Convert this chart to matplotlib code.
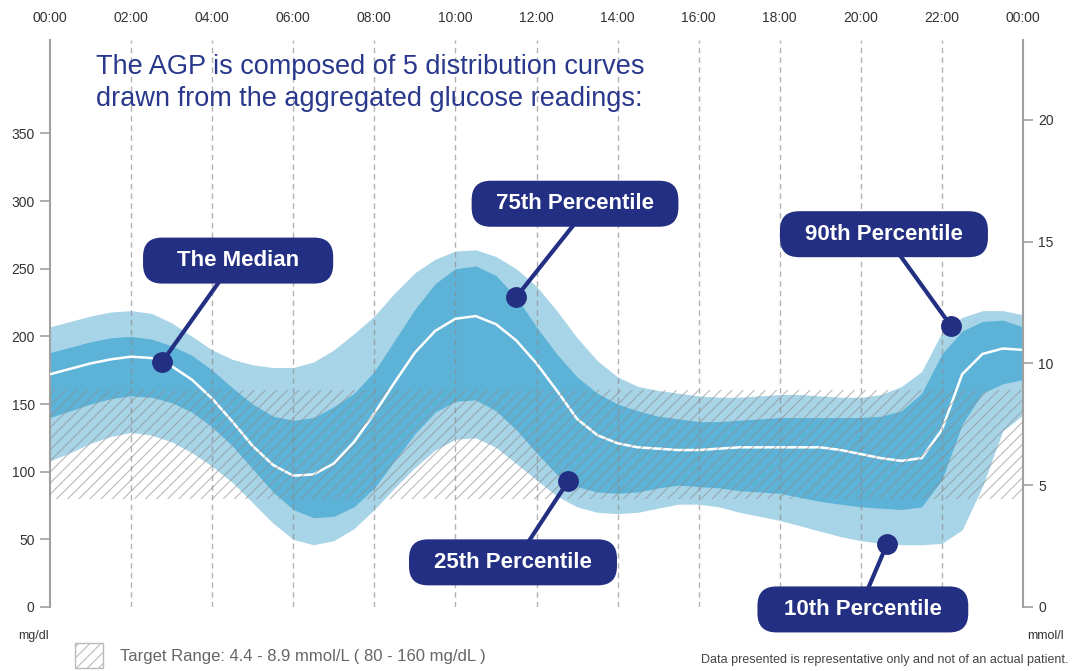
import matplotlib
matplotlib.use("Agg")
import matplotlib.pyplot as plt
from matplotlib.patches import FancyBboxPatch, Rectangle
import numpy as np

plt.rcParams['font.family'] = ['Liberation Sans', 'DejaVu Sans']
plt.rcParams['hatch.linewidth'] = 0.8
plt.rcParams['hatch.color'] = '#8c8c8c'

# glucose percentiles (mg/dl), read every half hour from 00:00 to 24:00
hours = np.arange(0, 24.5, 0.5)
p90 = [207, 211, 215, 218, 219, 217, 210, 200, 190, 183, 179, 177, 177, 181, 190, 202,
       215, 232, 247, 257, 263, 264, 259, 250, 237, 219, 199, 182, 170, 163, 160, 158,
       156, 155, 155, 156, 157, 157, 156, 155, 155, 157, 163, 174, 203, 214, 219, 219, 216]
p75 = [188, 192, 196, 199, 200, 198, 193, 186, 175, 162, 150, 141, 138, 140, 148, 158,
       174, 197, 220, 239, 250, 252, 245, 229, 207, 187, 170, 158, 150, 145, 141, 139,
       137, 137, 138, 139, 140, 140, 140, 140, 140, 141, 145, 158, 187, 204, 211, 212, 207]
p50 = [172, 176, 180, 183, 185, 184, 178, 168, 154, 137, 119, 105, 97, 98, 106, 122,
       143, 166, 188, 204, 213, 215, 209, 197, 180, 160, 139, 127, 121, 118, 117, 116,
       116, 117, 118, 118, 118, 118, 118, 116, 113, 110, 108, 110, 131, 172, 187, 191, 190]
p25 = [140, 145, 150, 154, 156, 155, 151, 144, 133, 119, 102, 85, 72, 66, 67, 74,
       88, 108, 128, 144, 152, 153, 145, 131, 114, 98, 89, 85, 84, 85, 88, 90,
       89, 88, 86, 85, 84, 81, 78, 76, 74, 73, 72, 74, 94, 135, 158, 165, 168]
p10 = [108, 114, 121, 126, 129, 127, 122, 114, 104, 92, 77, 62, 50, 46, 49, 58,
       72, 88, 103, 116, 124, 125, 118, 106, 94, 82, 74, 70, 69, 70, 73, 76,
       76, 74, 70, 67, 64, 60, 56, 52, 49, 47, 46, 46, 47, 57, 89, 130, 142]

tick_hours = list(range(0, 25, 2))
tick_labels = ["00:00", "02:00", "04:00", "06:00", "08:00", "10:00", "12:00",
               "14:00", "16:00", "18:00", "20:00", "22:00", "00:00"]
mg_ticks = [0, 50, 100, 150, 200, 250, 300, 350]
mmol_ticks = [0, 5, 10, 15, 20]
target_low, target_high = 80, 160

# callouts: label, curve, hour of the dot
callout_labels = ["The Median", "75th Percentile", "90th Percentile", "25th Percentile", "10th Percentile"]
callout_curves = [p50, p75, p90, p25, p10]
callout_hours = [2.76, 11.5, 22.22, 12.78, 20.65]

# layout of the callout boxes (hour, mg/dl) and where the leader meets the box
box_centers = [(4.64, 256), (12.95, 298), (20.57, 275.5), (11.42, 33), (20.05, -1.8)]
box_widths = [4.69, 5.1, 5.13, 5.13, 5.2]
attach_x = [4.14, 12.88, 21.0, 11.84, 20.2]

navy = '#232f82'
light_blue = '#a8d4e7'
dark_blue = '#5db3d7'
grey = '#a0a0a0'

W, H = 1073, 671
fig = plt.figure(figsize=(W / 100, H / 100), dpi=100)
ax = fig.add_axes([50 / W, 64 / H, 973 / W, 567 / H])
ymax = 419
ax.set_xlim(0, 24)
ax.set_ylim(0, ymax)

ax.fill_between(hours, p10, p90, color=light_blue, lw=0, zorder=1)
ax.fill_between(hours, p25, p75, color=dark_blue, lw=0, zorder=2)
ax.plot(hours, p50, color='white', lw=1.8, zorder=3)

# target range hatch
ax.fill_between([0, 24], target_low, target_high, facecolor='none',
                edgecolor='#8c8c8c', hatch='///', lw=0, alpha=0.6, zorder=4)

for h in tick_hours[1:-1]:
    ax.axvline(h, color='#8a8a8a', lw=1, ls=(0, (4, 3)), alpha=0.65, zorder=5)

for s in ['top', 'bottom', 'right']:
    ax.spines[s].set_visible(False)
ax.spines['left'].set_color(grey)
ax.spines['left'].set_linewidth(1.5)

ax.set_yticks(mg_ticks)
ax.tick_params(axis='y', direction='out', length=7, width=1.2, color=grey,
               labelsize=10, labelcolor='#333333', pad=4)
ax.xaxis.tick_top()
ax.set_xticks(tick_hours, tick_labels)
ax.tick_params(axis='x', length=0, pad=11, labelsize=10, labelcolor='#333333')

ax2 = ax.twinx()
ax2.set_ylim(0, ymax / 18)
ax2.set_yticks(mmol_ticks)
for s in ['top', 'bottom', 'left']:
    ax2.spines[s].set_visible(False)
ax2.spines['right'].set_color(grey)
ax2.spines['right'].set_linewidth(1.5)
ax2.tick_params(axis='y', direction='out', length=7, width=1.2, color=grey,
                labelsize=10, labelcolor='#333333', pad=4)

# callouts
aspect = (ymax / 567) / (24 / 973)
box_h = 34
for label, curve, hx, (cx, cy), bw, ax_x in zip(callout_labels, callout_curves, callout_hours,
                                                box_centers, box_widths, attach_x):
    y = np.interp(hx, hours, curve)
    edge_y = cy - box_h / 2 if cy > y else cy + box_h / 2
    ax.plot([hx, ax_x], [y, edge_y], color=navy, lw=3, zorder=6, clip_on=False)
    ax.plot(hx, y, 'o', ms=14, color=navy, zorder=7, clip_on=False)
    box = FancyBboxPatch((cx - bw / 2, cy - box_h / 2), bw, box_h,
                         boxstyle='round,pad=0,rounding_size=0.47', mutation_aspect=aspect,
                         facecolor=navy, edgecolor='none', zorder=8, clip_on=False)
    ax.add_patch(box)
    ax.text(cx, cy, label, ha='center', va='center', color='white', fontsize=16,
            fontweight='bold', zorder=9)

fig.text(96 / W, 1 - 74 / H, "The AGP is composed of 5 distribution curves",
         color='#29388c', fontsize=19.5, va='baseline')
fig.text(96 / W, 1 - 106 / H, "drawn from the aggregated glucose readings:",
         color='#29388c', fontsize=19.5, va='baseline')

fig.text(33 / W, 1 - 636 / H, "mg/dl", ha='center', va='center', fontsize=9, color='#333333')
fig.text(1045 / W, 1 - 636 / H, "mmol/l", ha='center', va='center', fontsize=9, color='#333333')

fig.add_artist(Rectangle((75 / W, 1 - 668 / H), 28 / W, 25 / H, transform=fig.transFigure,
                         facecolor='white', edgecolor='#bbbbbb', hatch='///', lw=1))
fig.text(120 / W, 1 - 657 / H, "Target Range: 4.4 - 8.9 mmol/L ( 80 - 160 mg/dL )",
         va='center', fontsize=12, color='#666666')
fig.text(1068 / W, 1 - 660 / H, "Data presented is representative only and not of an actual patient.",
         ha='right', va='center', fontsize=9, color='#444444')

fig.savefig("out.png", dpi=100)
